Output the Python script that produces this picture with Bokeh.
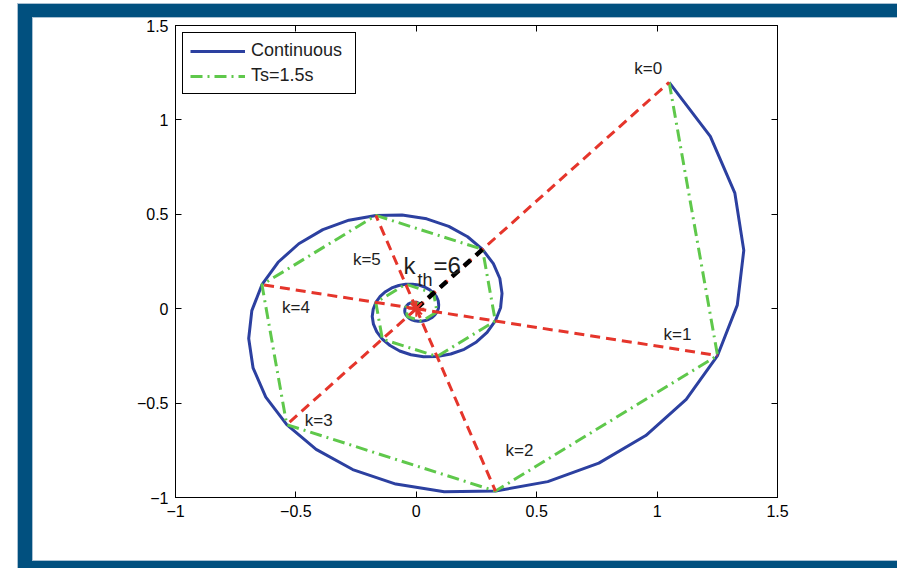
from bokeh.plotting import figure
from bokeh.models import (Range1d, LinearAxis, FixedTicker, Legend, LegendItem,
                          ColumnDataSource)
from bokeh.embed import file_html
from bokeh.resources import INLINE
from bokeh.core.properties import value

# ---------------- data ----------------
# continuous trajectory (vertices of the blue polyline)
cont_x = [1.050, 1.221, 1.323, 1.360, 1.333, 1.251, 1.121, 0.953, 0.758, 0.546,
          0.329, 0.116, -0.085, -0.264, -0.416, -0.538, -0.625, -0.678, -0.696, -0.683,
          -0.641, -0.574, -0.488, -0.388, -0.280, -0.168, -0.059, 0.043, 0.135, 0.213,
          0.275, 0.320, 0.347, 0.356, 0.350, 0.328, 0.294, 0.250, 0.199, 0.143,
          0.086, 0.030, -0.022, -0.069, -0.109, -0.141, -0.164, -0.178, -0.183, -0.179,
          -0.168, -0.150, -0.128, -0.102, -0.073, -0.044, -0.016, 0.011, 0.035, 0.056,
          0.072, 0.084, 0.091, 0.093, 0.092, 0.086, 0.077, 0.066, 0.052, 0.038,
          0.023, 0.008, -0.006, -0.018, -0.029, -0.037, -0.043, -0.047, -0.048, -0.047,
          -0.044, -0.039, -0.034, -0.027, -0.019, -0.012, -0.004, 0.003, 0.009, 0.015,
          0.019]
cont_y = [1.199, 0.913, 0.612, 0.309, 0.019, -0.248, -0.480, -0.672, -0.818, -0.916,
          -0.966, -0.969, -0.929, -0.852, -0.745, -0.614, -0.468, -0.313, -0.158, -0.010,
          0.127, 0.246, 0.344, 0.419, 0.469, 0.494, 0.496, 0.476, 0.436, 0.381,
          0.314, 0.239, 0.160, 0.081, 0.005, -0.065, -0.126, -0.176, -0.215, -0.240,
          -0.253, -0.254, -0.244, -0.224, -0.195, -0.161, -0.123, -0.082, -0.041, -0.003,
          0.033, 0.065, 0.090, 0.110, 0.123, 0.130, 0.130, 0.125, 0.114, 0.100,
          0.082, 0.063, 0.042, 0.021, 0.001, -0.017, -0.033, -0.046, -0.056, -0.063,
          -0.066, -0.067, -0.064, -0.059, -0.051, -0.042, -0.032, -0.022, -0.011, -0.001,
          0.009, 0.017, 0.024, 0.029, 0.032, 0.034, 0.034, 0.033, 0.030, 0.026,
          0.022]

# sampled trajectory, Ts = 1.5 s (k = 0, 1, 2, ...)
samp_x = [1.050, 1.251, 0.329, -0.538, -0.641, -0.168, 0.275, 0.328, 0.086, -0.141,
          -0.168, -0.044, 0.072, 0.086, 0.023, -0.037, -0.044, -0.012, 0.019]
samp_y = [1.199, -0.248, -0.966, -0.614, 0.127, 0.494, 0.314, -0.065, -0.253, -0.161,
          0.033, 0.130, 0.082, -0.017, -0.066, -0.042, 0.009, 0.034, 0.022]

k_labels = ["k=0", "k=1", "k=2", "k=3", "k=4", "k=5"]
kth = 6
origin_x = [0.0]
origin_y = [0.0]

ticks = [-1, -0.5, 0, 0.5, 1, 1.5]
tick_labels = ["\u22121", "\u22120.5", "0", "0.5", "1", "1.5"]

# ---------------- styles ----------------
BLUE = "#2c40a0"
GREEN = "#5fc84b"
RED = "#e5352b"
BAND = "#01507f"
EDGE = "#a9c0d2"
FONT = "Liberation Sans"
TXT = "#1e1e1e"

p = figure(width=897, height=568, x_range=Range1d(-1, 1.5), y_range=Range1d(-1, 1.5),
           min_border_left=175, min_border_right=120, min_border_top=25,
           min_border_bottom=71, toolbar_location=None, output_backend="svg")
p.grid.visible = False
p.outline_line_color = "black"
p.outline_line_width = 1
p.background_fill_color = "white"
p.border_fill_alpha = 0

# page frame bands painted behind the transparent border area
def layer(color, x, y, w, h):
    return "linear-gradient(%s,%s) %dpx %dpx / %dpx %dpx no-repeat" % (color, color, x, y, w, h)

p.styles = {"background": ", ".join([
    layer(BAND, 18, 4, 879, 13),
    layer(BAND, 18, 4, 14, 564),
    layer(BAND, 18, 561, 879, 7),
    layer(EDGE, 17, 3, 880, 1),
    layer(EDGE, 17, 3, 1, 565),
    layer(EDGE, 32, 17, 865, 1),
    layer(EDGE, 32, 17, 1, 544),
    layer(EDGE, 32, 560, 865, 1),
]) + ", white"}

p.add_layout(LinearAxis(), "above")
p.add_layout(LinearAxis(), "right")
label_map = dict(zip(ticks, tick_labels))
for ax in p.axis:
    ax.ticker = FixedTicker(ticks=ticks)
    ax.major_label_overrides = label_map
    ax.major_tick_in = 6
    ax.major_tick_out = 0
    ax.minor_tick_line_color = None
    ax.axis_line_color = "black"
    ax.major_tick_line_color = "black"
    ax.major_label_text_font = FONT
    ax.major_label_text_font_size = "16px"
    ax.major_label_text_color = "black"
    ax.major_label_standoff = 7
for ax in (p.above[0], p.right[0]):
    ax.major_label_overrides = {t: "" for t in ticks}
    ax.major_label_standoff = 0

r_cont = p.line(cont_x, cont_y, line_color=BLUE, line_width=3)
r_samp = p.line(samp_x, samp_y, line_color=GREEN, line_width=3, line_dash="12 5 2 5")

# rays from the origin to the first samples
n = len(k_labels)
p.segment(x0=origin_x * n, y0=origin_y * n, x1=samp_x[:n], y1=samp_y[:n],
          line_color=RED, line_width=3, line_dash="10 6")
p.segment(x0=origin_x, y0=origin_y, x1=[samp_x[kth]], y1=[samp_y[kth]],
          line_color="black", line_width=4.5, line_dash="9 7")
p.scatter(origin_x, origin_y, marker="asterisk", size=16, line_color=RED, line_width=2)
p.scatter(origin_x, origin_y, marker="x", size=12, line_color=RED, line_width=2)

lab_src = ColumnDataSource(dict(x=samp_x[:n], y=samp_y[:n], text=k_labels,
                                dx=[-21, -40, 24, 32, 34, -9],
                                dy=[-14, -21, -41, -4, 23, 44]))
p.text(x="x", y="y", text="text", x_offset="dx", y_offset="dy", source=lab_src,
       text_align="center", text_baseline="middle", text_font=value(FONT),
       text_font_size="17px", text_color=TXT)

kx, ky = [samp_x[kth]], [samp_y[kth]]
p.text(x=kx, y=ky, text=["k"], x_offset=-79, y_offset=16, text_font=value(FONT),
       text_font_size="24px", text_baseline="alphabetic", text_color=TXT)
p.text(x=kx, y=ky, text=["th"], x_offset=-65, y_offset=31, text_font=value(FONT),
       text_font_size="18px", text_baseline="alphabetic", text_color=TXT)
p.text(x=kx, y=ky, text=["=" + str(kth)], x_offset=-49, y_offset=16, text_font=value(FONT),
       text_font_size="24px", text_baseline="alphabetic", text_color=TXT)

legend = Legend(items=[LegendItem(label="Continuous", renderers=[r_cont]),
                       LegendItem(label="Ts=1.5s", renderers=[r_samp])],
                location=(7, 403), margin=0, padding=7, spacing=4,
                glyph_width=55, glyph_height=16, label_standoff=6, label_width=97,
                label_text_font=FONT, label_text_font_size="18px",
                label_text_color=TXT,
                border_line_color="black", border_line_width=1.5, border_line_alpha=1,
                background_fill_color="white", background_fill_alpha=1)
p.add_layout(legend)

open("out.html", "w").write(file_html(p, INLINE))
